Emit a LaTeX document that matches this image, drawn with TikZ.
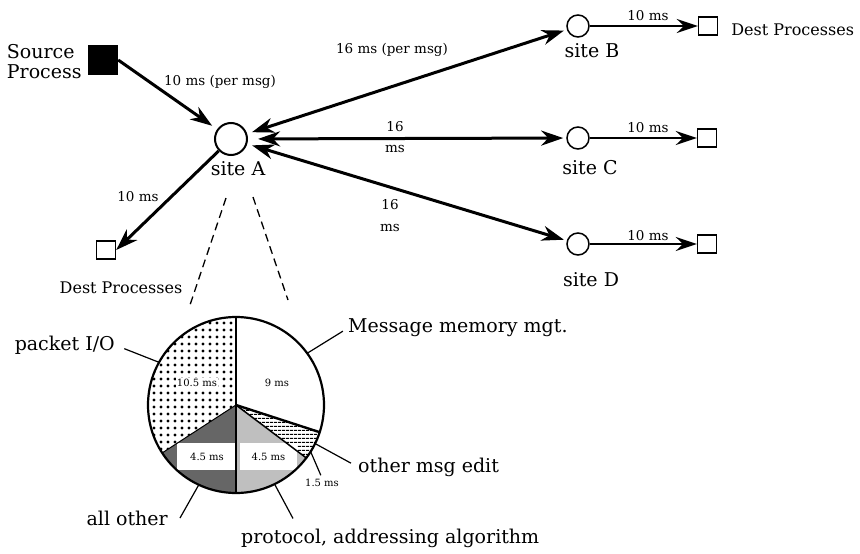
\documentclass[tikz,border=0pt]{standalone}
\usepackage{fontspec}
\setmainfont{DejaVu Serif}
\usetikzlibrary{positioning,arrows.meta,patterns.meta}

\def\ux{1pt}
\def\uy{-1pt}
\def\pr{88}

\tikzset{
  bigtxt/.style={font=\fontsize{19}{20}\selectfont, inner sep=0pt},
  desttxt/.style={font=\fontsize{16}{18}\selectfont, inner sep=0pt},
  midtxt/.style={font=\fontsize{13.5}{15}\selectfont, inner sep=0pt},
  pietxt/.style={font=\fontsize{10}{12}\selectfont, inner sep=1pt},
  sitenode/.style={circle, draw, line width=1.5pt, fill=white, inner sep=0pt, minimum size=22pt},
  destbox/.style={rectangle, draw, line width=1.4pt, fill=white, inner sep=0pt, minimum width=19pt, minimum height=18pt},
  srcbox/.style={rectangle, fill=black, inner sep=0pt, minimum size=30pt},
  arr/.style={line width=3pt, -{Stealth[length=22pt,width=15pt,inset=7pt]}},
  biarr/.style={line width=3pt, {Stealth[length=22pt,width=15pt,inset=7pt]}-{Stealth[length=22pt,width=15pt,inset=7pt]}},
  outarr/.style={line width=2.2pt, -{Stealth[length=21pt,width=14pt,inset=7pt]}},
  leader/.style={line width=1.2pt},
  zoomline/.style={line width=1.3pt, dash pattern=on 8pt off 5pt},
}

\begin{document}
\begin{tikzpicture}[x=\ux,y=\uy]
  \useasboundingbox (0,0) rectangle (860,554);

  % source and sites
  \node[srcbox] (src) at (103,60) {};
  \node[bigtxt, align=left, left=6pt of src, yshift=-2pt] (srcLbl) {Source\\Process};

  \node[sitenode, minimum size=32pt, line width=2pt,
        label={[bigtxt, xshift=7pt, yshift=-5pt]below:site A}] (siteA) at (231,139) {};
  \node[sitenode, label={[bigtxt, xshift=14pt, yshift=-6pt]below:site B}] (siteB) at (578,26) {};
  \node[sitenode, label={[bigtxt, xshift=12pt, yshift=-10pt]below:site C}] (siteC) at (578,138) {};
  \node[sitenode, label={[bigtxt, xshift=13pt, yshift=-17pt]below:site D}] (siteD) at (578,244) {};

  % destination processes
  \node[destbox] (destA) at (106,250) {};
  \node[destbox] (destB) at (708,26) {};
  \node[destbox] (destC) at (707,138) {};
  \node[destbox] (destD) at (707,244) {};
  \node[desttxt, right=13pt of destB, yshift=-4pt] (destLblB) {Dest Processes};
  \node[desttxt, below=22pt of destA, xshift=15pt] (destLblA) {Dest Processes};

  % message paths
  \draw[arr, shorten >=6pt] (src.east) -- (siteA);
  \draw[biarr, shorten <=5pt, shorten >=3pt] (siteA) -- (siteB);
  \draw[biarr, shorten <=10pt, shorten >=3pt] (siteA) -- (siteC);
  \draw[biarr, shorten <=5pt, shorten >=3pt] (siteA) -- (siteD);
  \draw[arr] (siteA) -- (destA.east);
  \draw[outarr] (siteB) -- (destB);
  \draw[outarr] (siteC) -- (destC);
  \draw[outarr] (siteD) -- (destD);

  % delays
  \node[midtxt] (tSrc) at (220,82) {10 ms (per msg)};
  \node[midtxt] (tAB) at (392,50) {16 ms (per msg)};
  \node[midtxt] (tAC) at (395,127) {16};
  \node[midtxt] (tACms) at (395,149) {ms};
  \node[midtxt] (tAD) at (390,205) {16};
  \node[midtxt] (tADms) at (390,228) {ms};
  \node[midtxt] (tAA) at (138,197) {10 ms};
  \node[midtxt] (tBB) at (648,16) {10 ms};
  \node[midtxt] (tCC) at (648,128) {10 ms};
  \node[midtxt] (tDD) at (648,236) {10 ms};

  % zoom into site A
  \coordinate (zL1) at (226,198);
  \coordinate (zL2) at (190,305);
  \coordinate (zR1) at (253,197);
  \coordinate (zR2) at (288,300);
  \draw[zoomline] (zL1) -- (zL2);
  \draw[zoomline] (zR1) -- (zR2);

  % pie of the cost at site A
  \coordinate (pie) at (236,405);
  \begin{scope}[shift={(pie)}, y=1pt]
    \fill[white] (0,0) circle (\pr);
    \fill[pattern={Dots[radius=1.7pt,distance=7pt]}] (0,0) -- (90:\pr) arc[start angle=90, end angle=213, radius=\pr] -- cycle;
    \fill[black!60] (0,0) -- (213:\pr) arc[start angle=213, end angle=270, radius=\pr] -- cycle;
    \fill[black!25] (0,0) -- (270:\pr) arc[start angle=270, end angle=323, radius=\pr] -- cycle;
    \fill[pattern={Lines[angle=0,distance=4pt,line width=1.4pt]}] (0,0) -- (323:\pr) arc[start angle=323, end angle=342, radius=\pr] -- cycle;

    \node[pietxt, fill=white, minimum width=60pt, minimum height=27pt] (vAll) at (-29,-51.5) {4.5 ms};
    \node[pietxt, fill=white, minimum width=57pt, minimum height=27pt] (vProto) at (32.5,-51.5) {4.5 ms};
    \node[pietxt, fill=white] (vPkt) at (-39,22) {10.5 ms};
    \node[pietxt] (vMem) at (41,22) {9 ms};

    \draw[line width=2.4pt] (90:\pr) -- (270:\pr);
    \draw[line width=2.4pt] (0,0) -- (-18:\pr);
    \draw[line width=1.5pt] (0,0) -- (-37:\pr);
    \draw[line width=1pt] (0,0) -- (213:\pr);
    \draw[line width=2.2pt] (0,0) circle (\pr);

    \coordinate (rMem) at (36:\pr);
    \coordinate (rPkt) at (151:\pr);
    \coordinate (rEdit) at (-26:\pr);
    \coordinate (rVal) at (-32:\pr);
    \coordinate (rProto) at (-64:\pr);
    \coordinate (rAll) at (245:\pr);
  \end{scope}

  % slice names
  \node[bigtxt, anchor=west] (lMem) at (348,328) {Message memory mgt.};
  \node[bigtxt, anchor=east] (lPkt) at (115,345) {packet I/O};
  \node[bigtxt, anchor=west] (lEdit) at (358,467) {other msg edit};
  \node[pietxt] (lEditVal) at (322,483) {1.5 ms};
  \node[bigtxt, anchor=west] (lProto) at (241,538) {protocol, addressing algorithm};
  \node[bigtxt, anchor=east] (lAll) at (168,518) {all other};

  \draw[leader, shorten <=6pt] (lMem.west) -- (rMem);
  \draw[leader, shorten <=10pt] (lPkt.east) -- (rPkt);
  \draw[leader, shorten <=8pt] (lEdit.west) -- (rEdit);
  \draw[leader, shorten <=3pt] (lEditVal.north) -- (rVal);
  \draw[leader] ([xshift=52pt,yshift=10pt]lProto.north west) -- (rProto);
  \draw[leader] ([xshift=12pt]lAll.east) -- (rAll);
\end{tikzpicture}
\end{document}
